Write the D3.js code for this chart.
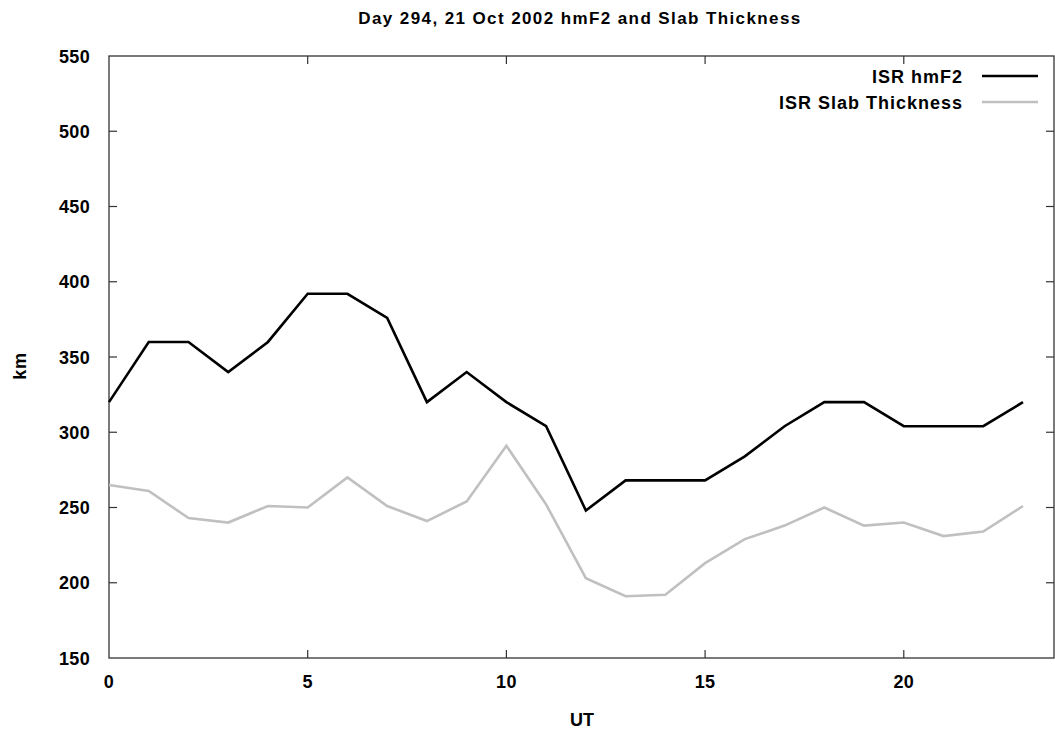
<!DOCTYPE html>
<html>
<head>
<meta charset="utf-8">
<script src="https://cdn.jsdelivr.net/npm/d3@7"></script>
<style>
  html, body { margin: 0; padding: 0; background: #fff; }
  text { font-family: "Liberation Sans", Arial, Helvetica, sans-serif; font-weight: bold; fill: #000; }
</style>
</head>
<body>
<svg id="chart" width="1055" height="732"></svg>
<script>
const hours = d3.range(0, 24);
const hmF2 = [320, 360, 360, 340, 360, 392, 392, 376, 320, 340, 320, 304, 248, 268, 268, 268, 284, 304, 320, 320, 304, 304, 304, 320];
const slabThickness = [265, 261, 243, 240, 251, 250, 270, 251, 241, 254, 291, 252, 203, 191, 192, 213, 229, 238, 250, 238, 240, 231, 234, 251];
const xTicks = [0, 5, 10, 15, 20];
const yTicks = [150, 200, 250, 300, 350, 400, 450, 500, 550];
const seriesNames = ["ISR hmF2", "ISR Slab Thickness"];
const seriesColors = ["#000000", "#c0c0c0"];
const titleText = "Day 294, 21 Oct 2002 hmF2 and Slab Thickness";

const svg = d3.select("#chart");
const m = { left: 109, right: 1054, top: 56, bottom: 658 };

const x = d3.scaleLinear().domain([0, 23.78]).range([m.left, m.right]);
const y = d3.scaleLinear().domain([150, 550]).range([m.bottom, m.top]);

const frameColor = "#333";
const tickLen = 8;

// frame
svg.append("rect")
  .attr("x", m.left).attr("y", m.top)
  .attr("width", m.right - m.left).attr("height", m.bottom - m.top)
  .attr("fill", "none").attr("stroke", frameColor).attr("stroke-width", 1.3);

// ticks (inward, mirrored)
const g = svg.append("g").attr("stroke", frameColor).attr("stroke-width", 1.2);
xTicks.forEach(t => {
  if (t === 0) return;
  g.append("line").attr("x1", x(t)).attr("x2", x(t)).attr("y1", m.bottom).attr("y2", m.bottom - tickLen);
  g.append("line").attr("x1", x(t)).attr("x2", x(t)).attr("y1", m.top).attr("y2", m.top + tickLen);
});
yTicks.forEach(t => {
  if (t === 150 || t === 550) return;
  g.append("line").attr("x1", m.left).attr("x2", m.left + tickLen).attr("y1", y(t)).attr("y2", y(t));
  g.append("line").attr("x1", m.right).attr("x2", m.right - tickLen).attr("y1", y(t)).attr("y2", y(t));
});

// tick labels
svg.append("g").selectAll("text").data(xTicks).join("text")
  .attr("x", d => x(d)).attr("y", 688)
  .attr("text-anchor", "middle").attr("font-size", 18).attr("letter-spacing", 0.3)
  .text(d => d);
svg.append("g").selectAll("text").data(yTicks).join("text")
  .attr("x", 90).attr("y", d => y(d) + 6.5)
  .attr("text-anchor", "end").attr("font-size", 18).attr("letter-spacing", 0.3)
  .text(d => d);

// axis titles
svg.append("text").attr("x", 582).attr("y", 726)
  .attr("text-anchor", "middle").attr("font-size", 18).text("UT");
svg.append("text").attr("transform", "translate(26,366) rotate(-90)")
  .attr("text-anchor", "middle").attr("font-size", 18).attr("letter-spacing", 0.8).text("km");
svg.append("text").attr("x", 580).attr("y", 24)
  .attr("text-anchor", "middle").attr("font-size", 17).attr("letter-spacing", 1.4).text(titleText);

// lines
const line = d3.line().x((d, i) => x(hours[i])).y(d => y(d));
[hmF2, slabThickness].forEach((s, k) => {
  svg.append("path").datum(s)
    .attr("fill", "none").attr("stroke", seriesColors[k]).attr("stroke-width", 2.6)
    .attr("stroke-linejoin", "miter").attr("d", line);
});

// legend
seriesNames.forEach((n, k) => {
  const ly = 76 + k * 26;
  svg.append("text").attr("x", 963).attr("y", ly + 6.5)
    .attr("text-anchor", "end").attr("font-size", 18).attr("letter-spacing", 1).text(n);
  svg.append("line").attr("x1", 982).attr("x2", 1038).attr("y1", ly).attr("y2", ly)
    .attr("stroke", seriesColors[k]).attr("stroke-width", 2.6);
});
</script>
</body>
</html>
